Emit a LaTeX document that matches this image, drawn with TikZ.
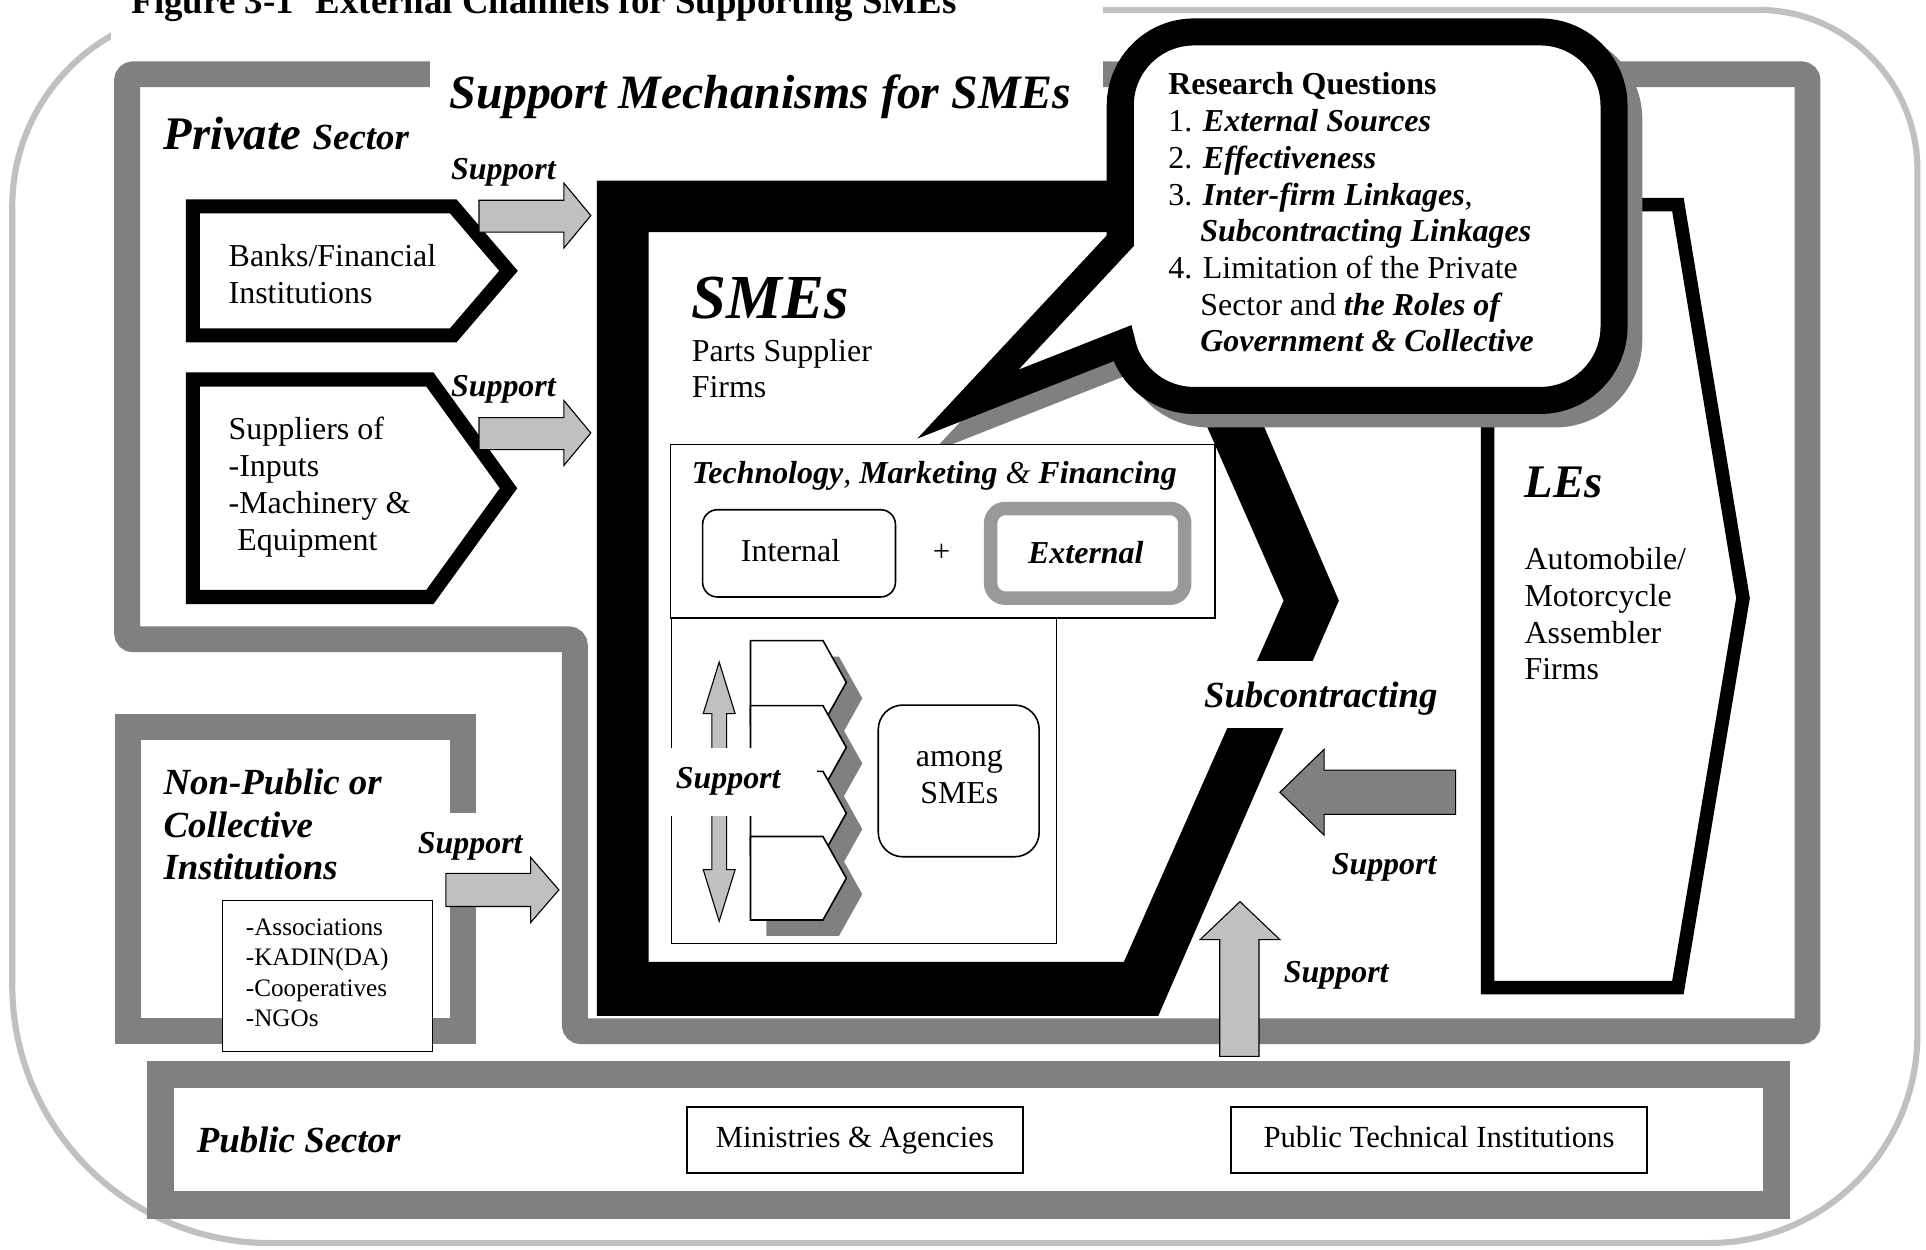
\documentclass[tikz,border=0pt]{standalone}
\usepackage{fontspec}
\setmainfont{Liberation Serif}
\definecolor{dg}{HTML}{808080}
\definecolor{lg}{HTML}{C0C0C0}
\definecolor{mg}{HTML}{999999}
\tikzset{
  tx/.style={anchor=base west,inner sep=0pt,font=\fontsize{26pt}{31pt}\selectfont},
  txc/.style={anchor=base,inner sep=0pt,font=\fontsize{25pt}{30pt}\selectfont},
  bix/.style={anchor=base west,inner sep=0pt,font=\fontsize{26pt}{31pt}\selectfont\bfseries\itshape},
  small/.style={anchor=base west,inner sep=0pt,font=\fontsize{20.5pt}{25pt}\selectfont},
  thinline/.style={draw=black,line width=1.3pt},
  blockL/.style={fill=lg,draw=black,line width=0.9pt},
  blockD/.style={fill=dg,draw=black,line width=0.9pt},
}
\begin{document}
\begin{tikzpicture}[x=1pt,y=-1pt,line join=miter]
\useasboundingbox (0,0) rectangle (1568,1017);
\fill[white] (0,0) rectangle (1568,1017);
% outer frame
\draw[lg,line width=5pt] (10,168) arc[start angle=180,end angle=270,radius=160] -- (1431,8) arc[start angle=270,end angle=360,radius=130] -- (1561,842) arc[start angle=0,end angle=90,radius=170] -- (220,1012) arc[start angle=90,end angle=180,radius=210] -- cycle;
\fill[white] (90,-5) rectangle (898,36);
\node[anchor=base west,inner sep=0pt,font=\fontsize{30pt}{36pt}\selectfont\bfseries] (fig) at (107,11) {Figure 3-1\hspace{0.6em}External Channels for Supporting SMEs};
% private sector gray frame
\draw[dg,line width=21pt,rounded corners=5pt] (103.5,60.5) -- (1471.5,60.5) -- (1471.5,839.5) -- (468,839.5) -- (468,520.5) -- (103.5,520.5) -- cycle;
\fill[white] (350,40) rectangle (898,82);
\node[anchor=base west,inner sep=0pt,font=\fontsize{39pt}{44pt}\selectfont\bfseries\itshape] (mech) at (366,88) {Support Mechanisms for SMEs};
\node[anchor=base west,inner sep=0pt,font=\bfseries\itshape] (priv) at (133,122) {\fontsize{38pt}{40pt}\selectfont Private \fontsize{30pt}{34pt}\selectfont Sector};
% non-public frame
\draw[dg,line width=21pt] (377,738) -- (377,839.5) -- (104,839.5) -- (104,592) -- (377,592) -- (377,662);
% public frame
\draw[dg,line width=22pt] (131,875) rectangle (1446,981);
% SMEs black shape
\fill[black,even odd rule] (486,147) -- (943,147) -- (1090,489) -- (943,827) -- (486,827) -- cycle (528,189) -- (913,189) -- (1045,489) -- (915,783) -- (528,783) -- cycle;
% LEs
\draw[line width=11pt,fill=white] (1211,166.5) -- (1366,166.5) -- (1419,487) -- (1366,804) -- (1211,804) -- cycle;
\node[anchor=base west,inner sep=0pt,font=\fontsize{38pt}{42pt}\selectfont\bfseries\itshape] (les) at (1241,405) {LEs};
\node[tx] (le1) at (1241,464) {Automobile/};
\node[tx] (le2) at (1241,494) {Motorcycle};
\node[tx] (le3) at (1241,523.5) {Assembler};
\node[tx] (le4) at (1241,553) {Firms};
% callout shadow
\begin{scope}[shift={(12,11)}]
\filldraw[dg,line width=22pt] (912,196) -- (912,86) arc[start angle=180,end angle=270,radius=60] -- (1254,26) arc[start angle=270,end angle=360,radius=60] -- (1314,266) arc[start angle=0,end angle=90,radius=60] -- (972,326) arc[start angle=90,end angle=167,radius=60] -- (788,329) -- cycle;
\end{scope}
% callout
\draw[black,fill=white,line width=22pt] (912,196) -- (912,86) arc[start angle=180,end angle=270,radius=60] -- (1254,26) arc[start angle=270,end angle=360,radius=60] -- (1314,266) arc[start angle=0,end angle=90,radius=60] -- (972,326) arc[start angle=90,end angle=167,radius=60] -- (788,329) -- cycle;
\node[tx] (rq0) at (951,77.3) {\textbf{Research Questions}};
\node[tx] (rq1) at (951,107.2) {1. \textbf{\textit{External Sources}}};
\node[tx] (rq2) at (951,137) {2. \textbf{\textit{Effectiveness}}};
\node[tx] (rq3) at (951,167) {3. \textbf{\textit{Inter-firm Linkages}},};
\node[tx] (rq3b) at (977,196.8) {\textbf{\textit{Subcontracting Linkages}}};
\node[tx] (rq4) at (951,226.7) {4. Limitation of the Private};
\node[tx] (rq4b) at (977,256.5) {Sector and \textbf{\textit{the Roles of}}};
\node[tx] (rq4c) at (977,286.3) {\textbf{\textit{Government \& Collective}}};
% SMEs texts
\node[anchor=base west,inner sep=0pt,font=\fontsize{51pt}{56pt}\selectfont\bfseries\itshape] (smes) at (563,259) {SMEs};
\node[tx] (psf1) at (563,294.5) {Parts Supplier};
\node[tx] (psf2) at (563,324) {Firms};
% boxes inside SMEs
\draw[thinline,fill=white] (546.8,503) rectangle (860,768);
\draw[thinline,fill=white] (546,362) rectangle (989,503);
\node[tx] (tmf) at (563,393.5) {\textbf{\textit{Technology}}\textit{,} \textbf{\textit{Marketing}} \textit{\&} \textbf{\textit{Financing}}};
\node[thinline,rounded corners=12pt,minimum width=157pt,minimum height=71pt,inner sep=0pt] (intbox) at (650.5,450.5) {};
\node[tx] (int) at (603,457) {Internal};
\node[txc] (plus) at (766.5,457.3) {+};
\draw[mg,line width=11pt,rounded corners=12pt] (806.5,414) rectangle (964.5,487);
\node[anchor=base,inner sep=0pt,font=\fontsize{26pt}{31pt}\selectfont\bfseries\itshape] (ext) at (884,458.6) {External};
% tabs
\foreach \t in {521.5,574.5,628,681} \fill[dg] (624,\t+13) -- (683,\t+13) -- (702,\t+47) -- (683,\t+81) -- (624,\t+81) -- cycle;
\foreach \t in {521.5,574.5,628,681} \draw[thinline,fill=white] (611,\t) -- (670,\t) -- (689,\t+34) -- (670,\t+68) -- (611,\t+68) -- cycle;
\draw[blockL] (579.5,620) -- (579.5,581) -- (572.5,581) -- (585.5,539) -- (598.5,581) -- (591.5,581) -- (591.5,620) -- cycle;
\draw[blockL] (579.5,655) -- (579.5,708) -- (572.5,708) -- (585.5,750) -- (598.5,708) -- (591.5,708) -- (591.5,655) -- cycle;
\fill[white] (540,609) rectangle (665,664);
\node[bix] (sup4) at (550,642) {Support};
\draw[thinline,rounded corners=20pt] (715,574) rectangle (846,697.5);
\node[txc,font=\fontsize{26pt}{31pt}\selectfont] (among1) at (781,624) {among};
\node[txc,font=\fontsize{26pt}{31pt}\selectfont] (among2) at (781,654) {SMEs};
% subcontracting
\fill[white] (955,538) rectangle (1100,593);
\node[anchor=base west,inner sep=0pt,font=\fontsize{30pt}{34pt}\selectfont\bfseries\itshape] (subc) at (980,576) {Subcontracting};
% LEs -> SMEs arrow
\draw[blockD] (1185,627) -- (1078,627) -- (1078,610) -- (1042,645) -- (1078,680) -- (1078,663) -- (1185,663) -- cycle;
\node[bix] (sup5) at (1084,712) {Support};
% public up arrow
\draw[blockL] (993,860) -- (993,765) -- (977,765) -- (1009.5,734) -- (1042,765) -- (1025,765) -- (1025,860) -- cycle;
\node[bix] (sup6) at (1045,800) {Support};
% banks & suppliers
\draw[line width=11.5pt,fill=white] (157,168) -- (369,168) -- (414,220.5) -- (369,273) -- (157,273) -- cycle;
\node[tx] (bk1) at (186,217) {Banks/Financial};
\node[tx] (bk2) at (186,247) {Institutions};
\draw[line width=11.5pt,fill=white] (157,309) -- (350,309) -- (414,397.5) -- (350,486) -- (157,486) -- cycle;
\node[tx] (sp1) at (186,358) {Suppliers of};
\node[tx] (sp2) at (186,388) {-Inputs};
\node[tx] (sp3) at (186,418) {-Machinery \&};
\node[tx] (sp4) at (193,448) {Equipment};
\draw[blockL] (390,163) -- (459,163) -- (459,149) -- (481,175.5) -- (459,202) -- (459,189) -- (390,189) -- cycle;
\draw[blockL] (390,340) -- (459,340) -- (459,326) -- (481,352.5) -- (459,379) -- (459,366) -- (390,366) -- cycle;
\node[bix] (sup1) at (367,146.5) {Support};
\node[bix] (sup2) at (367,323) {Support};
% non-public
\node[anchor=base west,inner sep=0pt,font=\fontsize{30pt}{35pt}\selectfont\bfseries\itshape] (np1) at (133,647) {Non-Public or};
\node[anchor=base west,inner sep=0pt,font=\fontsize{30pt}{35pt}\selectfont\bfseries\itshape] (np2) at (133,681.5) {Collective};
\node[anchor=base west,inner sep=0pt,font=\fontsize{30pt}{35pt}\selectfont\bfseries\itshape] (np3) at (133,716) {Institutions};
\draw[thinline,fill=white] (181,733) rectangle (352,856);
\node[small] (ng1) at (200,762) {-Associations};
\node[small] (ng2) at (200,786) {-KADIN(DA)};
\node[small] (ng3) at (200,811) {-Cooperatives};
\node[small] (ng4) at (200,836) {-NGOs};
\draw[blockL] (363,711) -- (432,711) -- (432,698) -- (455,724.5) -- (432,751) -- (432,738) -- (363,738) -- cycle;
\node[bix] (sup3) at (340,695) {Support};
% public sector
\node[anchor=base west,inner sep=0pt,font=\fontsize{30pt}{35pt}\selectfont\bfseries\itshape] (pub) at (160,938) {Public Sector};
\node[thinline,line width=1.6pt,minimum width=274pt,minimum height=54pt,inner sep=0pt] (min) at (696,928) {};
\node[txc] (mint) at (696,934) {Ministries \& Agencies};
\node[thinline,line width=1.6pt,minimum width=339pt,minimum height=54pt,inner sep=0pt] (pti) at (1171.5,928) {};
\node[txc] (ptit) at (1171.5,934) {Public Technical Institutions};
\end{tikzpicture}
\end{document}
